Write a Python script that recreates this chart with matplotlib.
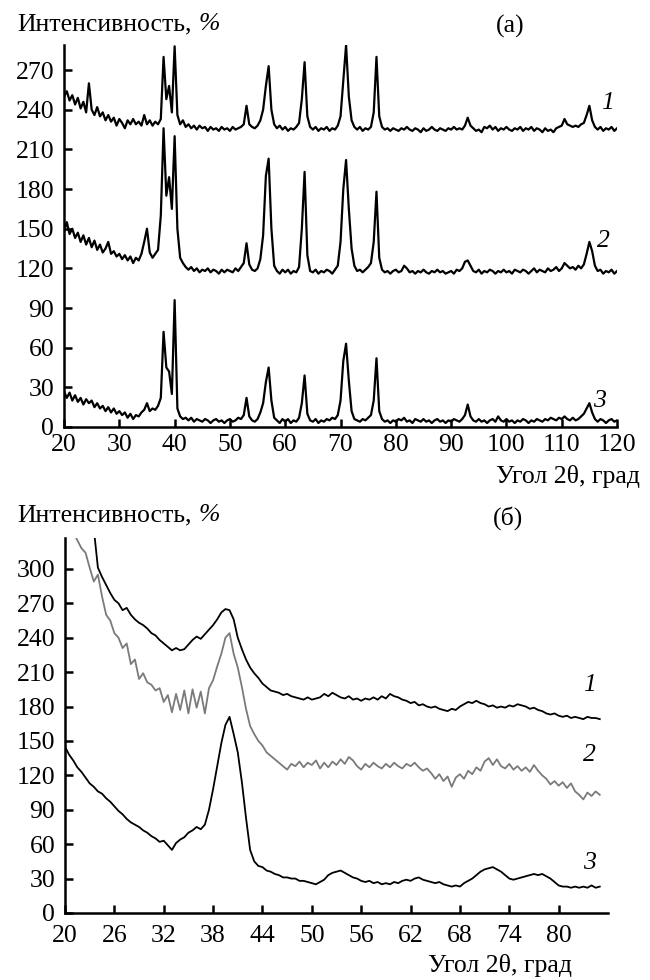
import numpy as np
import matplotlib
matplotlib.use("Agg")
import matplotlib.pyplot as plt

plt.rcParams['font.family'] = ['Liberation Serif', 'DejaVu Serif']

# ---- panel (a): diffraction patterns 20..120 deg, step 0.5 ----
angle_a = np.arange(20.0, 120.25, 0.5)

curve_a1 = [
    250, 254, 247, 251, 244, 249, 241, 246, 238, 260,
    240, 236, 242, 235, 238, 232, 236, 231, 234, 228,
    233, 230, 226, 232, 229, 233, 229, 231, 228, 236,
    229, 232, 228, 231, 229, 233, 280, 248, 258, 238,
    288, 236, 229, 232, 227, 229, 226, 228, 225, 228,
    226, 227, 224, 227, 225, 226, 224, 227, 225, 226,
    224, 227, 225, 226, 227, 229, 243, 229, 227, 226,
    228, 232, 240, 258, 273, 240, 229, 226, 228, 225,
    227, 224, 226, 225, 227, 230, 248, 276, 235, 227,
    225, 227, 224, 226, 225, 227, 224, 226, 225, 228,
    235, 262, 289, 250, 232, 227, 225, 227, 224, 226,
    225, 227, 238, 280, 235, 227, 225, 226, 224, 226,
    225, 224, 226, 225, 227, 225, 224, 226, 225, 223,
    226, 224, 225, 227, 225, 224, 226, 225, 224, 226,
    225, 227, 225, 226, 225, 228, 234, 228, 226, 224,
    225, 223, 227, 226, 228, 225, 227, 224, 226, 225,
    227, 225, 224, 226, 225, 227, 224, 226, 225, 227,
    224, 226, 225, 223, 226, 224, 225, 223, 226, 227,
    228, 233, 229, 228, 227, 228, 227, 229, 230, 236,
    243, 232, 227, 225, 227, 224, 226, 225, 227, 224,
    226,
]

curve_a2 = [
    148, 155, 146, 150, 143, 147, 140, 145, 138, 143,
    136, 141, 134, 138, 132, 135, 140, 131, 133, 129,
    131, 127, 130, 126, 129, 124, 128, 126, 131, 140,
    150, 132, 128, 131, 134, 160, 226, 175, 189, 165,
    220, 150, 128, 124, 121, 119, 121, 118, 120, 117,
    119, 118, 120, 117, 119, 118, 116, 119, 117, 119,
    118, 117, 120, 118, 121, 124, 139, 123, 119, 118,
    120, 127, 145, 190, 203, 150, 122, 118, 116, 119,
    117, 119, 116, 118, 117, 121, 150, 193, 130, 118,
    117, 119, 116, 118, 117, 119, 118, 116, 119, 122,
    140, 180, 202, 165, 135, 122, 118, 119, 117, 119,
    121, 124, 140, 178, 128, 119, 117, 118, 116, 118,
    119, 117, 118, 122, 120, 117, 118, 116, 118, 117,
    119, 117, 116, 118, 117, 119, 117, 118, 116, 117,
    118, 116, 119, 118, 120, 125, 126, 122, 118, 117,
    119, 116, 118, 117, 119, 118, 116, 118, 117, 119,
    117, 118, 116, 119, 118, 117, 119, 118, 116, 118,
    120, 117, 119, 118, 117, 120, 118, 119, 121, 118,
    120, 124, 122, 120, 121, 119, 122, 120, 123, 131,
    140, 133, 122, 118, 119, 116, 118, 117, 119, 116,
    118,
]

curve_a3 = [
    27, 22, 26, 20, 24, 19, 22, 17, 21, 18,
    20, 15, 18, 14, 16, 12, 15, 11, 14, 10,
    12, 9, 11, 7, 10, 6, 9, 8, 11, 13,
    18, 12, 14, 13, 16, 22, 72, 45, 42, 25,
    96, 14, 8, 6, 7, 5, 7, 4, 6, 5,
    4, 6, 5, 3, 5, 6, 4, 5, 3, 5,
    6, 4, 5, 7, 6, 9, 22, 8, 5, 4,
    6, 11, 18, 34, 45, 20, 7, 5, 3, 6,
    4, 6, 3, 5, 4, 7, 18, 39, 10, 5,
    4, 6, 3, 5, 4, 6, 5, 7, 6, 9,
    20, 50, 63, 35, 12, 6, 5, 4, 6, 5,
    7, 9, 20, 52, 12, 6, 4, 5, 3, 5,
    4, 6, 5, 7, 4, 5, 3, 6, 5, 4,
    6, 4, 5, 3, 5, 6, 4, 5, 3, 5,
    4, 6, 5, 4, 6, 9, 17, 8, 5, 4,
    6, 4, 5, 3, 5, 6, 4, 8, 5, 4,
    6, 4, 5, 3, 5, 4, 6, 5, 3, 5,
    4, 6, 5, 4, 6, 5, 7, 6, 5, 7,
    6, 8, 6, 5, 7, 5, 6, 8, 10, 14,
    18, 11, 6, 4, 6, 5, 3, 5, 6, 4,
    5,
]

# ---- panel (б): amorphous patterns, step 0.5 ----
angle_b1 = np.arange(23.5, 85.25, 0.5)
curve_b1 = [
    335, 301, 293, 286, 279, 273, 270, 264, 266, 260,
    256, 253, 251, 248, 244, 242, 238, 235, 232, 229,
    231, 229, 230, 234, 238, 241, 239, 243, 247, 251,
    256, 262, 265, 264, 256, 240, 230, 221, 214, 209,
    205, 200, 197, 194, 193, 192, 190, 191, 189, 188,
    187, 186, 188, 186, 187, 188, 191, 189, 192, 190,
    188, 187, 189, 186, 187, 185, 187, 186, 188, 186,
    189, 187, 191, 189, 188, 186, 185, 183, 184, 181,
    182, 180, 179, 180, 178, 177, 176, 178, 177, 180,
    182, 184, 183, 185, 183, 182, 180, 181, 179, 180,
    179, 181, 180, 182, 181, 180, 178, 179, 177, 176,
    174, 173, 174, 172, 171, 172, 170, 171, 170, 169,
    171, 170, 170, 169,
]

angle_b2 = np.arange(21.0, 85.25, 0.5)
curve_b2 = [
    332, 325, 318, 314, 301, 289, 295, 276, 260, 255,
    244, 240, 231, 235, 217, 221, 204, 209, 201, 199,
    194, 196, 184, 190, 175, 191, 177, 194, 174, 195,
    179, 193, 174, 196, 203, 215, 226, 240, 244, 226,
    214, 197, 178, 163, 156, 150, 146, 140, 137, 134,
    131, 128, 125, 130, 128, 132, 127, 131, 129, 133,
    126, 131, 127, 132, 129, 134, 130, 136, 133, 128,
    125, 130, 127, 131, 128, 126, 130, 127, 131, 128,
    126, 130, 128, 131, 127, 124, 126, 122, 117, 121,
    115, 119, 110, 118, 121, 117, 124, 121, 127, 124,
    132, 135, 129, 134, 128, 126, 130, 125, 128, 124,
    127, 123, 129, 124, 120, 117, 112, 115, 111, 114,
    109, 113, 106, 103, 99, 105, 102, 106, 103,
]

angle_b3 = np.arange(20.0, 85.25, 0.5)
curve_b3 = [
    145, 138, 133, 127, 123, 118, 113, 110, 106, 104,
    100, 97, 93, 89, 86, 82, 79, 77, 75, 72,
    70, 67, 65, 62, 63, 59, 55, 61, 64, 66,
    70, 72, 75, 73, 77, 90, 108, 128, 148, 164,
    171, 156, 140, 114, 83, 55, 45, 41, 40, 37,
    36, 34, 33, 31, 31, 30, 30, 28, 28, 27,
    26, 25, 27, 29, 33, 35, 36, 37, 35, 33,
    31, 30, 28, 27, 28, 26, 27, 25, 26, 25,
    27, 26, 28, 29, 28, 30, 31, 29, 28, 27,
    26, 27, 25, 24, 23, 24, 23, 26, 28, 30,
    33, 36, 38, 39, 40, 38, 36, 33, 30, 29,
    30, 31, 32, 33, 34, 33, 34, 32, 30, 27,
    24, 23, 23, 22, 23, 22, 23, 22, 24, 22,
    23,
]

ticks_a_x = [20, 30, 40, 50, 60, 70, 80, 90, 100, 110, 120]
ticks_a_y = [0, 30, 60, 90, 120, 150, 180, 210, 240, 270]
ticks_b_x = [20, 26, 32, 38, 44, 50, 56, 62, 68, 74, 80]
ticks_b_y = [0, 30, 60, 90, 120, 150, 180, 210, 240, 270, 300]

FS = 18.5


def style_axes(ax, xpad):
    for side in ("top", "right"):
        ax.spines[side].set_visible(False)
    for side in ("left", "bottom"):
        ax.spines[side].set_linewidth(1.8)
    ax.tick_params(direction="in", length=6, width=1.8, labelsize=FS)
    ax.tick_params(axis="y", pad=7)
    ax.tick_params(axis="x", pad=xpad)


def y_caption(fig, ypx):
    # "Интенсивность," upright, "%" italic right after it
    t = fig.text(17 / 650, 1 - ypx / 980, "Интенсивность,", fontsize=FS, va="center", ha="left")
    fig.axes[0].annotate("%", xy=(1, 0.5), xycoords=t, xytext=(5, 0), textcoords="offset points",
                         fontsize=FS, style="italic", va="center", ha="left",
                         annotation_clip=False)


fig = plt.figure(figsize=(6.5, 9.8), dpi=100)

# panel (a)
ax_a = fig.add_axes([0.0985, 0.5643, 0.8508, 0.3898])
for ys in (curve_a1, curve_a2, curve_a3):
    ax_a.plot(angle_a, ys, color="black", lw=1.6)
ax_a.set_xlim(20, 120)
ax_a.set_ylim(0, 289)
ax_a.set_xticks(ticks_a_x)
ax_a.set_yticks(ticks_a_y)
style_axes(ax_a, 5)
for lab, (lx, ly) in zip(["1", "2", "3"], [(118.2, 245), (117.6, 141), (116.9, 20)]):
    ax_a.text(lx, ly, lab, fontsize=FS, style="italic", ha="center", va="center")

# panel (б)
ax_b = fig.add_axes([0.1, 0.0684, 0.8354, 0.3827])
ax_b.plot(angle_b1, curve_b1, color="black", lw=1.3)
ax_b.plot(angle_b2, curve_b2, color="#7a7a7a", lw=1.3)
ax_b.plot(angle_b3, curve_b3, color="black", lw=1.3)
ax_b.set_xlim(20, 86)
ax_b.set_ylim(0, 327)
ax_b.set_xticks(ticks_b_x)
ax_b.set_yticks(ticks_b_y)
style_axes(ax_b, 9)
for lab, (lx, ly) in zip(["1", "2", "3"], [(83.8, 199), (83.8, 138), (83.8, 44)]):
    ax_b.text(lx, ly, lab, fontsize=FS, style="italic", ha="center", va="center")

# captions
y_caption(fig, 24)
fig.text(510 / 650, 1 - 26 / 980, "(а)", fontsize=FS, va="center", ha="center")
fig.text(640 / 650, 1 - 476 / 980, "Угол 2θ, град", fontsize=FS, va="center", ha="right")

y_caption(fig, 515)
fig.text(508 / 650, 1 - 518 / 980, "(б)", fontsize=FS, va="center", ha="center")
fig.text(572 / 650, 1 - 965 / 980, "Угол 2θ, град", fontsize=FS, va="center", ha="right")

fig.savefig("out.png", dpi=100)
